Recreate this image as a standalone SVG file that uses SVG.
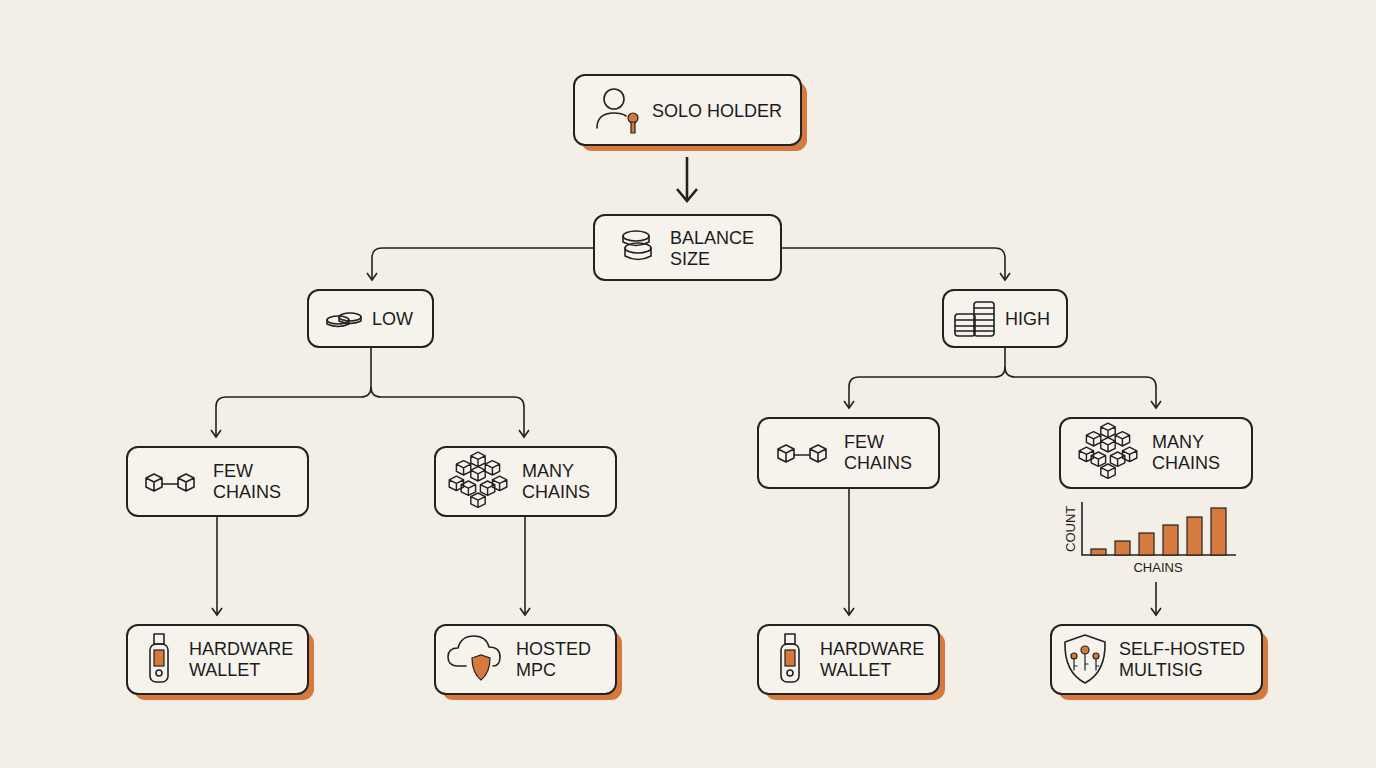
<svg xmlns="http://www.w3.org/2000/svg" width="1376" height="768" viewBox="0 0 1376 768">
<defs>
<style>
.n{fill:#f6f3ec;stroke:#222;stroke-width:2}
.s{fill:#d47a3e}
.t{font-family:"Liberation Sans",Arial,sans-serif;font-size:18px;fill:#1c1c1c}
.i{fill:none;stroke:#222;stroke-width:1.6;stroke-linejoin:round;stroke-linecap:round}
.c{fill:none;stroke:#222;stroke-width:1.6}
.o{fill:#d47a3e;stroke:#222;stroke-width:1.2}
</style>
<marker id="a" markerWidth="12" markerHeight="12" refX="10" refY="6" orient="auto" markerUnits="userSpaceOnUse" viewBox="0 0 12 12"><path d="M3,1 L10,6 L3,11" fill="none" stroke="#222" stroke-width="1.6"/></marker>
<marker id="ab" markerWidth="24" markerHeight="24" refX="20" refY="12" orient="auto" markerUnits="userSpaceOnUse" viewBox="0 0 24 24"><path d="M8,2 L20,12 L8,22" fill="none" stroke="#222" stroke-width="2.6"/></marker>
<g id="cube"><path class="i" d="M0,-8 L8,-4 L8,5 L0,9 L-8,5 L-8,-4 Z M-8,-4 L0,0 L8,-4 M0,0 L0,9"/></g>
<g id="cubeS"><path class="i" style="stroke-width:1.2" d="M0,-6 L6,-3 L6,3 L0,6 L-6,3 L-6,-3 Z M-6,-3 L0,0 L6,-3 M0,0 L0,6"/></g>
<g id="hex"><use href="#cubeS" x="0" y="-18"/><use href="#cubeS" x="-12" y="-11"/><use href="#cubeS" x="12" y="-11"/><use href="#cubeS" x="0" y="-6"/><use href="#cubeS" x="-18" y="2"/><use href="#cubeS" x="18" y="2"/><use href="#cubeS" x="-8" y="6"/><use href="#cubeS" x="8" y="6"/><use href="#cubeS" x="0" y="16"/></g>
<g id="usb"><rect class="i" x="-5" y="-24" width="10" height="10"/><rect class="i" x="-9" y="-14" width="18" height="38" rx="6"/><rect x="-5" y="-8" width="10" height="16" class="o"/><circle class="i" cx="0" cy="15" r="3"/></g>
<g id="few"><use href="#cube" x="-16" y="0"/><use href="#cube" x="16" y="0"/><path class="i" d="M-8,2 L8,2"/></g>
</defs>
<rect width="1376" height="768" fill="#f3efe7"/>
<g id="connectors">
<path class="c" style="stroke-width:2.6" d="M687,157 L687,201" marker-end="url(#ab)"/>
<path class="c" d="M594,248 L382,248 Q372,248 372,258 L372,280" marker-end="url(#a)"/>
<path class="c" d="M781,248 L995,248 Q1005,248 1005,258 L1005,280" marker-end="url(#a)"/>
<path class="c" d="M371,347 L371,387 Q371,397 361,397 L226,397 Q216,397 216,407 L216,437" marker-end="url(#a)"/>
<path class="c" d="M371,387 Q371,397 381,397 L514,397 Q524,397 524,407 L524,437" marker-end="url(#a)"/>
<path class="c" d="M1005,347 L1005,367 Q1005,377 995,377 L859,377 Q849,377 849,387 L849,408" marker-end="url(#a)"/>
<path class="c" d="M1005,367 Q1005,377 1015,377 L1146,377 Q1156,377 1156,387 L1156,408" marker-end="url(#a)"/>
<path class="c" d="M217,516 L217,615" marker-end="url(#a)"/>
<path class="c" d="M525,516 L525,615" marker-end="url(#a)"/>
<path class="c" d="M849,488 L849,615" marker-end="url(#a)"/>
<path class="c" d="M1156,582 L1156,615" marker-end="url(#a)"/>
</g>
<g id="solo"><rect class="s" x="581" y="82" width="226" height="69" rx="11"/><rect class="n" x="574" y="75" width="227" height="70" rx="11"/>
<circle class="i" cx="614" cy="99" r="10"/><path class="i" d="M597,128 Q597,113 614,113 Q622,113 626,116"/>
<circle class="o" cx="633" cy="118" r="5"/><path class="o" d="M631,122 L635,122 L635,133 L631,133 Z"/>
<text class="t" x="652" y="117">SOLO HOLDER</text></g>
<g id="balance"><rect class="n" x="594" y="215" width="187" height="65" rx="11"/>
<g class="i"><ellipse cx="636" cy="236" rx="13" ry="5"/><path d="M623,236 L623,242 Q636,249 649,242 L649,236"/><ellipse cx="638" cy="248" rx="13" ry="5"/><path d="M625,248 L625,256 Q638,263 651,256 L651,248"/></g>
<text class="t" x="670" y="244">BALANCE</text><text class="t" x="670" y="265">SIZE</text></g>
<g id="low"><rect class="n" x="308" y="290" width="125" height="57" rx="11"/>
<g class="i"><ellipse cx="338" cy="320" rx="11" ry="4"/><path d="M327,320 L327,324 Q338,329 349,324 L349,320"/><ellipse cx="350" cy="317" rx="11" ry="4"/><path d="M339,317 L339,321 Q350,326 361,321 L361,317"/></g>
<text class="t" x="372" y="325">LOW</text></g>
<g id="high"><rect class="n" x="943" y="290" width="124" height="57" rx="11"/>
<g class="i"><rect x="955" y="314" width="20" height="22" rx="3"/><path d="M955,320 H975 M955,326 H975 M955,331 H975"/><rect x="974" y="302" width="20" height="34" rx="3"/><path d="M974,308 H994 M974,314 H994 M974,320 H994 M974,326 H994 M974,331 H994"/></g>
<text class="t" x="1005" y="325">HIGH</text></g>
<g id="fewL"><rect class="n" x="127" y="447" width="181" height="69" rx="11"/><use href="#few" x="170" y="482"/>
<text class="t" x="213" y="477">FEW</text><text class="t" x="213" y="498">CHAINS</text></g>
<g id="manyL"><rect class="n" x="435" y="447" width="181" height="69" rx="11"/><use href="#hex" transform="translate(478,481) scale(1.2)"/>
<text class="t" x="522" y="477">MANY</text><text class="t" x="522" y="498">CHAINS</text></g>
<g id="fewR"><rect class="n" x="758" y="418" width="181" height="70" rx="11"/><use href="#few" x="802" y="453"/>
<text class="t" x="844" y="448">FEW</text><text class="t" x="844" y="469">CHAINS</text></g>
<g id="manyR"><rect class="n" x="1060" y="418" width="192" height="70" rx="11"/><use href="#hex" transform="translate(1108,452) scale(1.2)"/>
<text class="t" x="1152" y="448">MANY</text><text class="t" x="1152" y="469">CHAINS</text></g>
<g id="chart">
<path class="c" d="M1082,502 L1082,555 L1236,555"/>
<g fill="#d47a3e" stroke="#222" stroke-width="1.2">
<rect x="1091" y="549" width="15" height="6"/><rect x="1115" y="541" width="15" height="14"/><rect x="1139" y="533" width="15" height="22"/><rect x="1163" y="525" width="15" height="30"/><rect x="1187" y="517" width="15" height="38"/><rect x="1211" y="508" width="15" height="47"/></g>
<text class="t" style="font-size:13px" transform="translate(1075,552) rotate(-90)">COUNT</text>
<text class="t" style="font-size:13px" x="1158" y="572" text-anchor="middle">CHAINS</text></g>
<g id="hwL"><rect class="s" x="134" y="632" width="180" height="68" rx="11"/><rect class="n" x="127" y="625" width="181" height="69" rx="11"/><use href="#usb" x="159" y="658"/>
<text class="t" x="189" y="655">HARDWARE</text><text class="t" x="189" y="676">WALLET</text></g>
<g id="mpc"><rect class="s" x="442" y="632" width="180" height="68" rx="11"/><rect class="n" x="435" y="625" width="181" height="69" rx="11"/>
<path class="i" d="M466,666 L458,666 Q448,666 448,657 Q448,648 458,648 Q461,636 474,636 Q486,636 489,647 Q500,647 500,657 Q500,666 493,666"/>
<path class="o" d="M472,658 L481,655 L490,658 Q490,673 481,680 Q472,673 472,658 Z"/>
<text class="t" x="516" y="655">HOSTED</text><text class="t" x="516" y="676">MPC</text></g>
<g id="hwR"><rect class="s" x="765" y="632" width="180" height="68" rx="11"/><rect class="n" x="758" y="625" width="181" height="69" rx="11"/><use href="#usb" x="790" y="658"/>
<text class="t" x="820" y="655">HARDWARE</text><text class="t" x="820" y="676">WALLET</text></g>
<g id="multisig"><rect class="s" x="1058" y="632" width="210" height="68" rx="11"/><rect class="n" x="1051" y="625" width="211" height="69" rx="11"/>
<path class="i" d="M1085,635 L1105,642 Q1106,672 1085,683 Q1064,672 1065,642 Z"/>
<g><circle class="o" cx="1085" cy="650" r="4"/><circle class="o" cx="1074" cy="656" r="3"/><circle class="o" cx="1096" cy="656" r="3"/><path class="i" style="stroke-width:1.2" d="M1085,654 V670 M1085,664 H1088 M1074,659 V670 M1074,666 H1077 M1096,659 V670 M1096,666 H1099"/></g>
<text class="t" x="1119" y="655">SELF-HOSTED</text><text class="t" x="1119" y="676">MULTISIG</text></g>
</svg>
